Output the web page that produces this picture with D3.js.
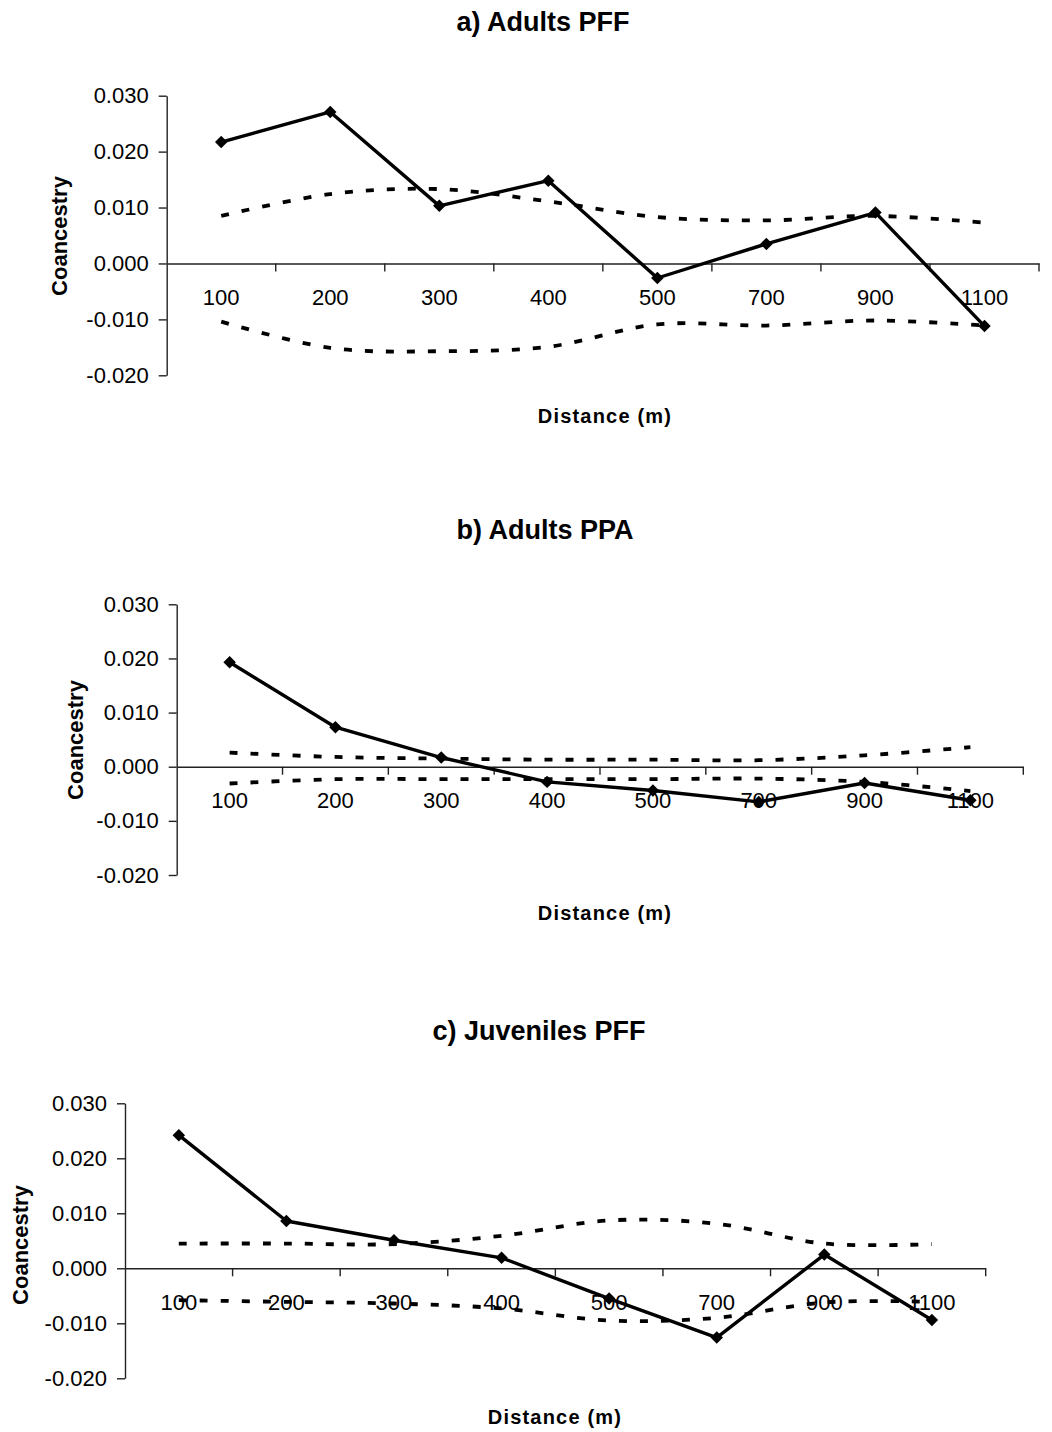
<!DOCTYPE html>
<html>
<head>
<meta charset="utf-8">
<script src="https://cdn.jsdelivr.net/npm/d3@7"></script>
<style>
  html, body { margin: 0; padding: 0; background: #fff; }
  svg { display: block; font-family: "Liberation Sans", Arial, sans-serif; }
</style>
</head>
<body>
<svg id="chart" width="1052" height="1432"></svg>
<script>
// ---- data ----
const categories = ["100", "200", "300", "400", "500", "700", "900", "1100"];
const yTickValues = [-0.02, -0.01, 0, 0.01, 0.02, 0.03];
const yTickLabels = ["-0.020", "-0.010", "0.000", "0.010", "0.020", "0.030"];

const titles = ["a) Adults PFF", "b) Adults PPA", "c) Juveniles PFF"];
const yLabel = "Coancestry";
const xLabel = "Distance (m)";

const adultsPFF      = [0.0217, 0.0271, 0.0103, 0.0148, -0.0026, 0.0035, 0.0091, -0.0112];
const adultsPFFUpper = [0.0085, 0.0124, 0.0133, 0.0111, 0.0083, 0.0077, 0.0085, 0.0073];
const adultsPFFLower = [-0.0104, -0.0151, -0.0157, -0.0149, -0.0109, -0.0111, -0.0102, -0.0111];

const adultsPPA      = [0.0193, 0.0073, 0.0017, -0.0028, -0.0044, -0.0065, -0.0030, -0.0062];
const adultsPPAUpper = [0.0026, 0.0018, 0.0015, 0.0013, 0.0013, 0.0012, 0.0021, 0.0036];
const adultsPPALower = [-0.0031, -0.0023, -0.0023, -0.0023, -0.0023, -0.0022, -0.0028, -0.0045];

const juvPFF      = [0.0242, 0.0086, 0.0051, 0.0019, -0.0055, -0.0126, 0.0025, -0.0094];
const juvPFFUpper = [0.0045, 0.0045, 0.0044, 0.0059, 0.0087, 0.0081, 0.0045, 0.0044];
const juvPFFLower = [-0.0058, -0.0061, -0.0064, -0.0073, -0.0095, -0.0090, -0.0062, -0.0061];

// ---- layout (per panel) ----
const panels = [
  { title: titles[0], main: adultsPFF, upper: adultsPFFUpper, lower: adultsPFFLower,
    left: 166.7, right: 1039, top: 95.7, bottom: 375.3,
    titleX: 543, titleY: 31, ylabX: 67, ylabY: 236, xlabX: 605, xlabY: 423 },
  { title: titles[1], main: adultsPPA, upper: adultsPPAUpper, lower: adultsPPALower,
    left: 176.7, right: 1023.3, top: 604.3, bottom: 875,
    titleX: 545, titleY: 539, ylabX: 83, ylabY: 740, xlabX: 605, xlabY: 920 },
  { title: titles[2], main: juvPFF, upper: juvPFFUpper, lower: juvPFFLower,
    left: 125, right: 985.7, top: 1103.3, bottom: 1378.3,
    titleX: 539, titleY: 1040, ylabX: 28, ylabY: 1245, xlabX: 555, xlabY: 1424 }
];

const svg = d3.select("#chart");

panels.forEach(p => {
  const g = svg.append("g");
  const x = d3.scaleBand().domain(categories).range([p.left, p.right]).padding(0);
  const y = d3.scaleLinear().domain([-0.02, 0.03]).range([p.bottom, p.top]);
  const cx = c => x(c) + x.bandwidth() / 2;

  // Title
  g.append("text").attr("x", p.titleX).attr("y", p.titleY)
    .attr("text-anchor", "middle").attr("font-weight", "bold")
    .attr("font-size", 27).text(p.title);

  // Y label
  g.append("text")
    .attr("transform", `translate(${p.ylabX},${p.ylabY}) rotate(-90)`)
    .attr("text-anchor", "middle").attr("font-weight", "bold")
    .attr("font-size", 22).text(yLabel);

  // X label
  g.append("text").attr("x", p.xlabX).attr("y", p.xlabY)
    .attr("text-anchor", "middle").attr("font-weight", "bold")
    .attr("font-size", 20).attr("letter-spacing", 1.2).text(xLabel);

  // Y axis
  const yAxis = d3.axisLeft(y).tickValues(yTickValues)
    .tickFormat((d, i) => yTickLabels[i]).tickSize(8).tickSizeOuter(0).tickPadding(10);
  const ya = g.append("g").attr("transform", `translate(${p.left},0)`).call(yAxis);
  ya.selectAll("text").attr("font-size", 22).attr("fill", "#000")
    .attr("font-family", "Liberation Sans, Arial, sans-serif");
  ya.selectAll("line, path").attr("stroke", "#222").attr("stroke-width", 1.4);

  // X axis at y = 0
  const xAxis = d3.axisBottom(x).tickSize(0).tickSizeOuter(0).tickPadding(26);
  const xa = g.append("g").attr("transform", `translate(0,${y(0)})`).call(xAxis);
  xa.selectAll("text").attr("font-size", 22).attr("fill", "#000")
    .attr("font-family", "Liberation Sans, Arial, sans-serif");
  xa.selectAll("path").attr("stroke", "#222").attr("stroke-width", 1.4);
  // boundary ticks
  const bounds = categories.slice(1).map(c => x(c)).concat([x.range()[1]]);
  g.append("g").selectAll("line").data(bounds).join("line")
    .attr("x1", d => d).attr("x2", d => d)
    .attr("y1", y(0)).attr("y2", y(0) + 8)
    .attr("stroke", "#222").attr("stroke-width", 1.4);

  // Envelope (dashed, smoothed)
  const env = d3.line().x((d, i) => cx(categories[i])).y(d => y(d)).curve(d3.curveCardinal);
  [p.upper, p.lower].forEach(arr => {
    g.append("path").attr("d", env(arr)).attr("fill", "none")
      .attr("stroke", "#000").attr("stroke-width", 3.8)
      .attr("stroke-dasharray", "8,13");
  });

  // Main line
  const line = d3.line().x((d, i) => cx(categories[i])).y(d => y(d));
  g.append("path").attr("d", line(p.main)).attr("fill", "none")
    .attr("stroke", "#000").attr("stroke-width", 3.4).attr("stroke-linejoin", "round");

  // Diamond markers
  const sym = d3.symbol().type(d3.symbolSquare).size(78);
  g.append("g").selectAll("path").data(p.main).join("path")
    .attr("d", sym)
    .attr("transform", (d, i) => `translate(${cx(categories[i])},${y(d)}) rotate(45)`)
    .attr("fill", "#000");
});
</script>
</body>
</html>
